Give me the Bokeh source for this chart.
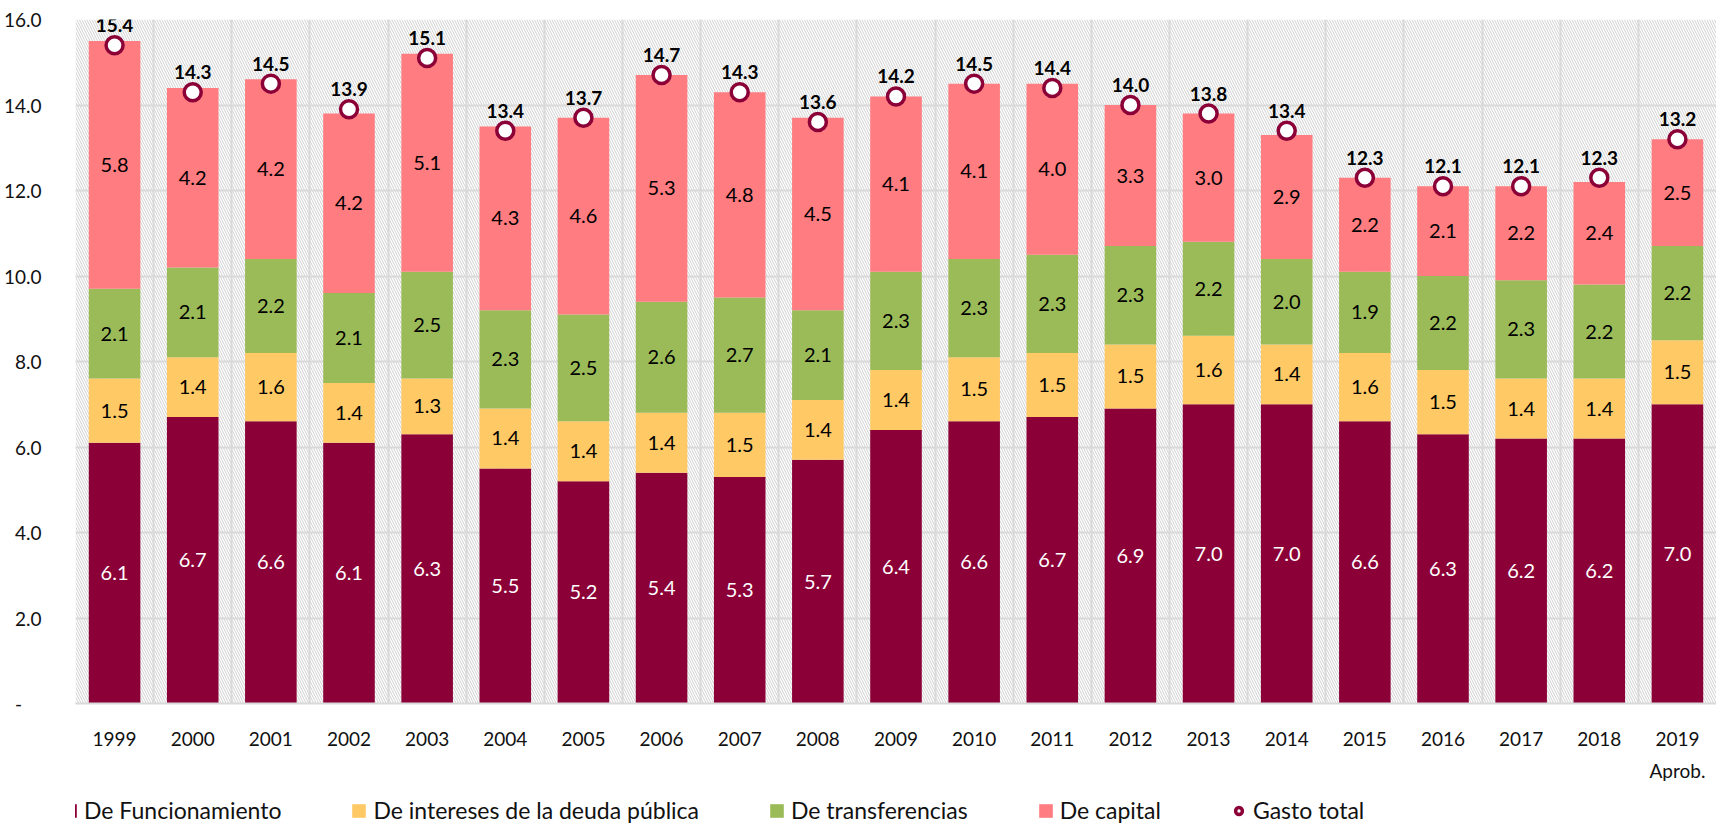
from bokeh.plotting import figure
from bokeh.layouts import column
from bokeh.models import Range1d, FixedTicker, Legend, LegendItem, ColumnDataSource, LabelSet, LinearAxis
from bokeh.core.properties import value
from bokeh.embed import file_html
from bokeh.resources import INLINE

years = ["1999", "2000", "2001", "2002", "2003", "2004", "2005", "2006", "2007", "2008",
         "2009", "2010", "2011", "2012", "2013", "2014", "2015", "2016", "2017", "2018", "2019"]
funcionamiento = [6.1, 6.7, 6.6, 6.1, 6.3, 5.5, 5.2, 5.4, 5.3, 5.7, 6.4, 6.6, 6.7, 6.9, 7.0, 7.0, 6.6, 6.3, 6.2, 6.2, 7.0]
intereses = [1.5, 1.4, 1.6, 1.4, 1.3, 1.4, 1.4, 1.4, 1.5, 1.4, 1.4, 1.5, 1.5, 1.5, 1.6, 1.4, 1.6, 1.5, 1.4, 1.4, 1.5]
transferencias = [2.1, 2.1, 2.2, 2.1, 2.5, 2.3, 2.5, 2.6, 2.7, 2.1, 2.3, 2.3, 2.3, 2.3, 2.2, 2.0, 1.9, 2.2, 2.3, 2.2, 2.2]
capital = [5.8, 4.2, 4.2, 4.2, 5.1, 4.3, 4.6, 5.3, 4.8, 4.5, 4.1, 4.1, 4.0, 3.3, 3.0, 2.9, 2.2, 2.1, 2.2, 2.4, 2.5]
gasto_total = [15.4, 14.3, 14.5, 13.9, 15.1, 13.4, 13.7, 14.7, 14.3, 13.6, 14.2, 14.5, 14.4, 14.0, 13.8, 13.4, 12.3, 12.1, 12.1, 12.3, 13.2]
y_ticks = [0, 2, 4, 6, 8, 10, 12, 14, 16]
last_note = "Aprob."

series_names = ["De Funcionamiento", "De intereses de la deuda pública", "De transferencias", "De capital"]
series_vals = [funcionamiento, intereses, transferencias, capital]
series_colors = ["#8B0037", "#FFCA66", "#9BBB59", "#FF7C80"]
label_colors = ["white", "black", "black", "black"]
total_name = "Gasto total"
total_color = "#8B0037"

FONT = "Lato"
GAP = "\u2003" * 4
n = len(years)
xs = list(range(n))

p = figure(frame_width=1641, frame_height=684, output_backend="svg", toolbar_location=None,
           x_range=Range1d(-0.5, n - 0.5), y_range=Range1d(y_ticks[0], y_ticks[-1]),
           min_border_left=74, min_border_top=19, min_border_right=0, min_border_bottom=0)
p.outline_line_color = None
p.background_fill_color = "white"

# hatched plot background
bg = p.quad(left=[xs[0] - 0.5], right=[xs[-1] + 0.5], bottom=[y_ticks[0]], top=[y_ticks[-1]],
            fill_color="white", line_color=None, hatch_pattern="\\", hatch_color="#d0d0d0",
            hatch_scale=5, hatch_weight=1)
bg.level = "image"

p.xgrid.ticker = FixedTicker(ticks=[i - 0.5 for i in range(n + 1)])
p.ygrid.ticker = FixedTicker(ticks=y_ticks)
for g in (p.xgrid, p.ygrid):
    g.grid_line_color = "#d9d9d9"
    g.grid_line_width = 2

# axes
p.xaxis.ticker = FixedTicker(ticks=xs)
p.xaxis.major_label_overrides = {i: years[i] for i in xs}
p.xaxis.axis_line_color = "#d9d9d9"
p.xaxis.axis_line_width = 2
p.xaxis.major_tick_line_color = None
p.xaxis.minor_tick_line_color = None
p.xaxis.major_label_standoff = 22

note_axis = LinearAxis(ticker=FixedTicker(ticks=[xs[-1]]),
                       major_label_overrides={xs[-1]: last_note},
                       axis_line_color=None, major_tick_line_color=None,
                       minor_tick_line_color=None, major_label_standoff=4)
p.add_layout(note_axis, "below")

p.yaxis.ticker = FixedTicker(ticks=y_ticks)
yov = {v: f"{v:.1f}" for v in y_ticks}
yov[0] = "-\u00a0\u00a0\u00a0\u00a0"
p.yaxis.major_label_overrides = yov
p.yaxis.axis_line_color = None
p.yaxis.major_tick_line_color = None
p.yaxis.minor_tick_line_color = None
p.yaxis.major_label_standoff = 28

for ax in (p.xaxis[0], note_axis, p.yaxis[0]):
    ax.major_label_text_font = FONT
    ax.major_label_text_font_size = "19px"
    ax.major_label_text_color = "#111111"

# stacked bars
bottom = [0.0] * n
for name, vals, col, lcol in zip(series_names, series_vals, series_colors, label_colors):
    top = [b + v for b, v in zip(bottom, vals)]
    src = ColumnDataSource(dict(x=xs, bottom=bottom, top=top,
                                mid=[(b + t) / 2 for b, t in zip(bottom, top)],
                                lab=[f"{v:.1f}" for v in vals]))
    p.vbar(x="x", bottom="bottom", top="top", width=0.66, source=src,
           fill_color=col, line_color=None)
    p.text(x="x", y="mid", text="lab", source=src, text_align="center", text_baseline="middle",
           text_font=value(FONT), text_font_size="20px", text_color=lcol)
    bottom = top

# total
tsrc = ColumnDataSource(dict(x=xs, y=gasto_total, lab=[f"{v:.1f}" for v in gasto_total]))
p.scatter(x="x", y="y", source=tsrc, marker="circle", size=17, fill_color="white",
          line_color=total_color, line_width=3.5)
p.add_layout(LabelSet(x="x", y="y", text="lab", source=tsrc, text_align="center",
                      text_baseline="alphabetic", y_offset=13, text_font=value(FONT),
                      text_font_size=value("19px"), text_font_style=value("bold"),
                      text_color=value("black")))

# legend strip (separate small figure below the chart); its swatch renderers sit off-screen
lf = figure(width=1715, height=44, output_backend="svg", toolbar_location=None,
            x_range=Range1d(0, 1), y_range=Range1d(0, 1), x_axis_type=None, y_axis_type=None,
            min_border_left=0, min_border_right=0, min_border_top=0, min_border_bottom=0)
lf.outline_line_color = None
lf.xgrid.visible = False
lf.ygrid.visible = False
items = []
for name, col in zip(series_names, series_colors):
    r = lf.vbar(x=[-10], bottom=[-10], top=[-9], width=0.5, fill_color=col, line_color=None)
    items.append(LegendItem(label=name + GAP, renderers=[r]))
rt = lf.scatter(x=[-10], y=[-10], marker="circle", size=17, fill_color="white",
                line_color=total_color, line_width=3.5)
items.append(LegendItem(label=total_name, renderers=[rt]))
legend = Legend(items=items, orientation="horizontal", location=(-14, 4),
                label_text_font=FONT, label_text_font_size="23px", label_text_color="#111111",
                glyph_width=17, glyph_height=17, spacing=0, label_standoff=6,
                border_line_color=None, background_fill_alpha=0, padding=0, margin=0)
lf.add_layout(legend, "center")

layout = column(p, lf, spacing=0)
open("out.html", "w").write(file_html(layout, INLINE))
